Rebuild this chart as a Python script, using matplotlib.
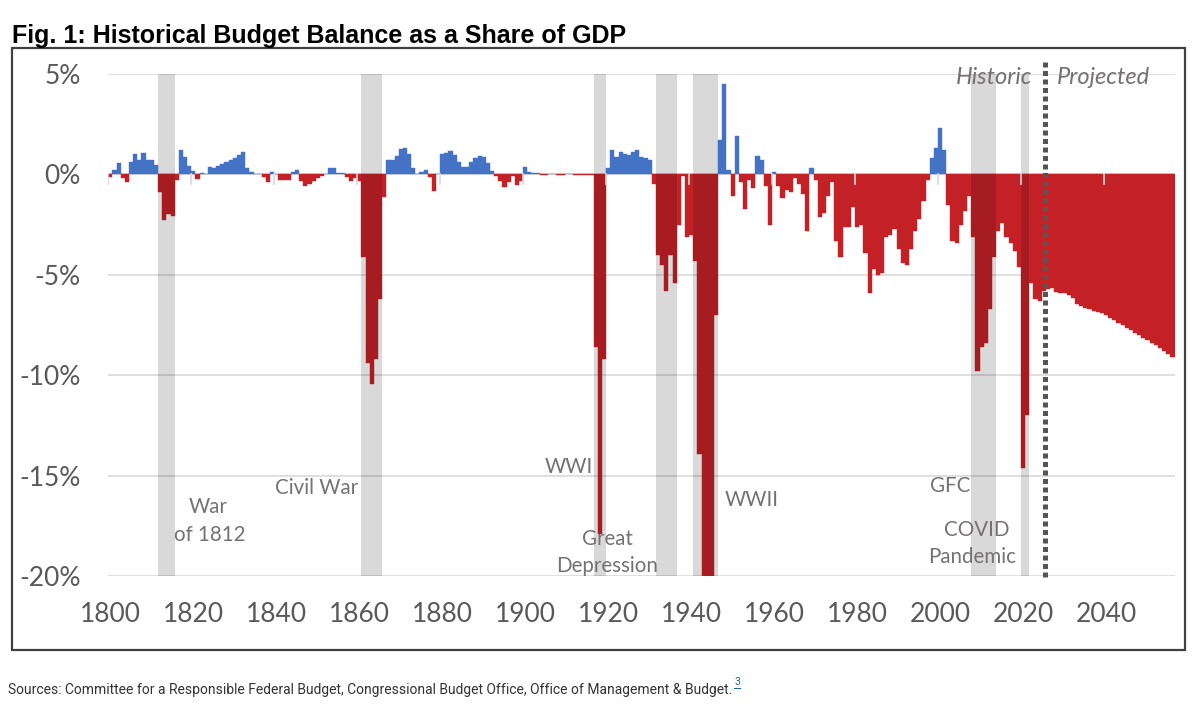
import numpy as np
import matplotlib
matplotlib.use('Agg')
from matplotlib import pyplot as plt
from matplotlib.patches import Rectangle

# budget balance, % of GDP, one value per year
bal_1800s = [-0.13, 0.22, 0.55, -0.16, -0.36, 0.63, 1.00, 0.72, 1.08, 0.72,
             0.70, 0.47, -0.87, -2.25, -1.95, -2.05, -0.30, 1.22, 0.85, 0.42,
             0.17, -0.25, 0.07, 0.00, 0.37, 0.30, 0.42, 0.50, 0.62, 0.70,
             0.80, 0.97, 1.12, 0.30, 0.13, 0.00, 0.00, -0.13, -0.37, 0.10,
             0.00, -0.30, -0.30, -0.30, 0.10, 0.22, -0.33, -0.58, -0.50, -0.33,
             -0.17, -0.07, 0.00, 0.30, 0.30, 0.08, 0.08, -0.15, -0.33, -0.20,
             -0.35, -4.10, -9.40, -10.45, -9.20, -6.20, -1.15, 0.73, 0.73, 0.90,
             1.25, 1.33, 1.00, 0.33, 0.02, 0.12, 0.22, -0.12, -0.83, 0.00,
             1.02, 1.07, 1.15, 0.95, 0.63, 0.38, 0.38, 0.62, 0.83, 0.94,
             0.87, 0.58, 0.18, -0.10, -0.35, -0.65, -0.40, -0.08, -0.53, -0.33]
bal_1900s = [0.38, 0.13, 0.08, 0.05, -0.03, -0.03, 0.03, 0.03, -0.05, -0.03,
             0.00, 0.00, -0.03, -0.05, -0.05, -0.03, -0.05, -8.60, -17.90, -9.20,
             0.32, 1.22, 0.85, 1.12, 1.03, 0.98, 1.10, 1.22, 0.88, 0.80,
             0.70, -0.50, -4.00, -4.50, -5.80, -4.00, -5.40, -2.50, -0.10, -3.10,
             -3.00, -4.30, -13.90, -26.80, -21.20, -21.00, -7.00, 1.70, 4.50, 0.20,
             -1.10, 1.90, -0.40, -1.70, -0.30, -0.70, 0.90, 0.70, -0.60, -2.50,
             0.10, -0.60, -1.20, -0.80, -0.90, -0.20, -0.50, -1.00, -2.80, 0.30,
             -0.30, -2.10, -1.90, -1.10, -0.40, -3.30, -4.10, -2.60, -2.60, -1.60,
             -2.60, -2.50, -3.90, -5.90, -4.70, -5.00, -4.90, -3.10, -3.00, -2.70,
             -3.70, -4.40, -4.50, -3.70, -2.80, -2.20, -1.30, -0.30, 0.80, 1.30]
bal_2000s = [2.30, 1.20, -1.50, -3.30, -3.40, -2.50, -1.80, -1.10, -3.10, -9.80,
             -8.60, -8.40, -6.70, -4.10, -2.80, -2.40, -3.10, -3.40, -3.80, -4.60,
             -14.60, -12.00, -5.40, -6.20, -6.30]
# 2025 onwards: projection
bal_proj = [-5.80, -5.72, -5.68, -5.88, -5.93, -5.93, -6.00, -6.17, -6.47, -6.55,
            -6.63, -6.72, -6.78, -6.85, -6.92, -7.00, -7.13, -7.25, -7.38, -7.50,
            -7.63, -7.75, -7.88, -8.00, -8.13, -8.25, -8.38, -8.50, -8.63, -8.77,
            -8.92, -9.10]

first_year = 1800
proj_start = 2025.4

# shaded periods (first year, last year)
periods = [(1812, 1815), (1861, 1865), (1917, 1919), (1932, 1936),
           (1941, 1946), (2008, 2013), (2020, 2021)]

yticks = [5, 0, -5, -10, -15, -20]
ytick_labels = ['5%', '0%', '-5%', '-10%', '-15%', '-20%']
xticks = list(range(1800, 2041, 20))

blue = '#4472C4'
red = '#C42127'
gray_txt = '#767171'
axis_txt = '#595959'
chart_font = ['Lato', 'DejaVu Sans']

values = np.array(bal_1800s + bal_1900s + bal_2000s + bal_proj)
years = np.arange(first_year, first_year + len(values))
colors = np.where(values >= 0, blue, red)

fig = plt.figure(figsize=(12, 7.04), dpi=100)
ax = fig.add_axes([108.3 / 1200, 1 - 576 / 704, 1066.2 / 1200, 502 / 704])

ax.bar(years, values, width=1.0, color=colors, edgecolor=colors,
       linewidth=0.3, zorder=2)

for a, b in periods:
    ax.axvspan(a - 0.5, b + 0.5, color='black', alpha=0.15, lw=0, zorder=3)

# category-axis tick marks at zero
for t in xticks:
    ax.plot([t - 0.5, t - 0.5], [0, -0.5], color='#d9d9d9', lw=1.2, zorder=4)

ax.plot([proj_start, proj_start], [5.6, -20.2], color='#555555', lw=3.6,
        dashes=(1, 0.7), clip_on=False, zorder=5)

ax.set_xlim(years[0] - 0.5, years[-1] + 0.5)
ax.set_ylim(-20, 5)
ax.set_yticks(yticks)
ax.set_yticklabels(ytick_labels)
ax.set_xticks(xticks)
ax.set_xticklabels([str(x) for x in xticks])
ax.yaxis.grid(True, color='#d9d9d9', lw=1.2)
ax.set_axisbelow(True)
for s in ax.spines.values():
    s.set_visible(False)
ax.tick_params(axis='both', length=0, labelsize=19, labelcolor=axis_txt)
ax.tick_params(axis='x', pad=19)
ax.tick_params(axis='y', pad=20)
for lab in ax.get_xticklabels() + ax.get_yticklabels():
    lab.set_family(chart_font)

notes = [('War', 1823.5, -16.55), ('of 1812', 1824.0, -17.95),
         ('Civil War', 1849.8, -15.6), ('WWI', 1910.5, -14.55),
         ('Great', 1919.7, -18.15), ('Depression', 1919.7, -19.5),
         ('WWII', 1954.6, -16.23), ('GFC', 2002.4, -15.52),
         ('COVID', 2008.9, -17.71), ('Pandemic', 2007.7, -19.05)]
for txt, x, y in notes:
    ax.text(x, y, txt, ha='center', va='center', fontsize=14.8,
            color=gray_txt, family=chart_font, zorder=6)

ax.text(2022.2, 4.85, 'Historic', ha='right', va='center', fontsize=17,
        style='italic', color=gray_txt, family=chart_font, zorder=6)
ax.text(2028.2, 4.85, 'Projected', ha='left', va='center', fontsize=17,
        style='italic', color=gray_txt, family=chart_font, zorder=6)

fig.text(12 / 1200, 1 - 43 / 704,
         'Fig. 1: Historical Budget Balance as a Share of GDP',
         fontsize=18, fontweight='bold', family='Liberation Sans',
         va='baseline', ha='left')

fig.patches.append(Rectangle((12 / 1200, 1 - 650 / 704), 1173 / 1200,
                             602 / 704, transform=fig.transFigure,
                             fill=False, edgecolor='#404040', lw=1.6))

src = fig.text(8 / 1200, 1 - 690 / 704,
               'Sources: Committee for a Responsible Federal Budget, '
               'Congressional Budget Office, Office of Management & Budget.',
               fontsize=10, color='#333333', family='Roboto',
               va='center', ha='left')
fig.canvas.draw()
bb = src.get_window_extent()
sx = (bb.x1 + 2) / 1200
fn = fig.text(sx, (bb.y1 - 4) / 704, '3', fontsize=7.5, color='#1f5fae',
              family='Roboto', va='bottom', ha='left')
fig.canvas.draw()
fb = fn.get_window_extent()
fig.lines.append(plt.Line2D([fb.x0 / 1200, fb.x1 / 1200],
                            [(fb.y0 - 1) / 704, (fb.y0 - 1) / 704],
                            transform=fig.transFigure, color='#1f5fae', lw=0.8))

fig.savefig('out.png', dpi=100, facecolor='white')
